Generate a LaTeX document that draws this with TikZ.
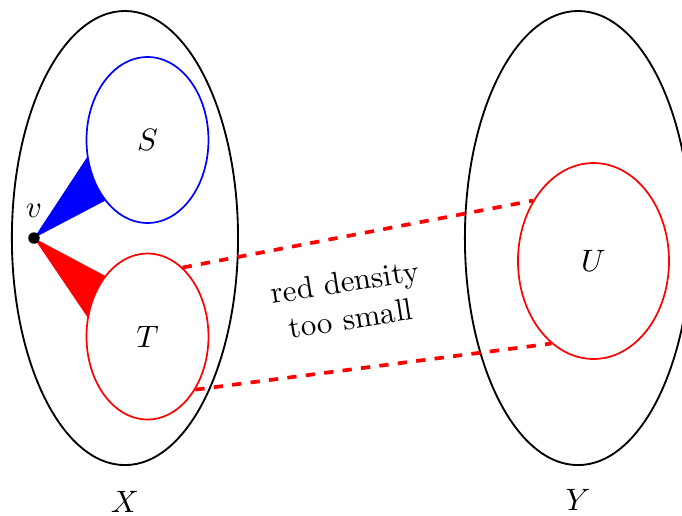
\documentclass[tikz,border=0pt]{standalone}
\usetikzlibrary{shapes.geometric,positioning,backgrounds}

\begin{document}
\begin{tikzpicture}[every node/.style={font=\normalsize},
  bigset/.style={draw,semithick,ellipse,minimum width=2.57cm,minimum height=5.16cm,inner sep=0pt},
  sub/.style={line width=0.55pt,ellipse,fill=white,inner sep=0pt},
  dl/.style={red,very thick,dashed},
  dot/.style={circle,fill=black,inner sep=0pt,minimum size=0.13cm}]
\useasboundingbox (-1.420,-3.148) rectangle (6.330,2.705);
%------------- the two big sets
\node[bigset] (X) at (0,0) {};
\node[bigset] (Y) at (5.148,0) {};
\node (xl) at (0,-3.0) {$X$};
\node (yl) at (5.148,-2.98) {$Y$};
%------------- subsets S, T, U
\node[sub,draw=blue,minimum width=1.386cm,minimum height=1.886cm] (S) at (0.256,1.114) {$S$};
\node[sub,draw=red,minimum width=1.386cm,minimum height=1.886cm] (T) at (0.256,-1.119) {$T$};
\node[sub,draw=red,minimum width=1.716cm,minimum height=2.227cm] (U) at (5.324,-0.261) {$U$};
%------------- vertex v and its fans
\node[dot] (v) at (-1.034,0) {};
\node[above=1pt of v] (vl) {$v$};
\begin{scope}[on background layer]
\fill[blue] (v.center) -- (S.196) -- (S.center) -- (S.235) -- cycle;
\fill[red] (v.center) -- (T.125) -- (T.center) -- (T.162) -- cycle;
\end{scope}
%------------- sparse red pair
\draw[dl] (T.63) -- (U.135);
\draw[dl] (T.312) -- (U.243);
\node[rotate=9,align=center] (lbl) at (2.534,-0.705) {red density\\too small};
\end{tikzpicture}
\end{document}
